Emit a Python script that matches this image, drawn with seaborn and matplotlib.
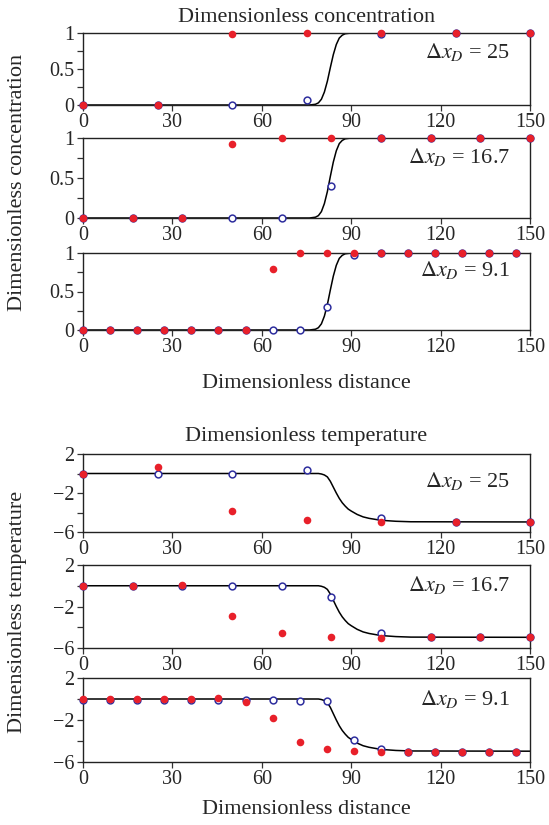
import numpy as np
import pandas as pd
import seaborn as sns
import matplotlib
matplotlib.use('Agg')
import matplotlib.pyplot as plt

# grid points of the three runs
x_25 = [0, 25, 50, 75, 100, 125, 150]
x_167 = [0, 16.7, 33.3, 50, 66.7, 83.3, 100, 116.7, 133.3, 150]
x_91 = [0, 9.09, 18.18, 27.27, 36.36, 45.45, 54.55, 63.64, 72.73, 81.82,
        90.91, 100, 109.09, 118.18, 127.27, 136.36, 145.45]

# analytical curves
conc_curve_x = [0, 76, 78, 79, 80, 81, 82, 83, 84, 85, 86, 87, 88, 90, 150]
conc_curve_y = [0, 0, 0.01, 0.03, 0.08, 0.18, 0.33, 0.52, 0.70, 0.84, 0.93, 0.97, 0.99, 1, 1]
temp_curve_x = [0, 79, 80, 81, 82, 83, 84, 85, 86, 87, 88, 89, 90, 92, 94, 96, 100, 105, 110, 150]
temp_curve_y = [0, 0, -0.05, -0.15, -0.35, -0.8, -1.4, -2.0, -2.55, -3.0, -3.35, -3.65,
                -3.85, -4.2, -4.45, -4.6, -4.8, -4.9, -4.95, -4.97]

# concentration: red = filled, blue = open
conc_red_25 = [0, 0, 0.98, 1, 1, 1, 1]
conc_blue_25 = [0, 0, 0, 0.07, 0.99, 1, 1]
conc_red_167 = [0, 0, 0, 0.92, 1, 1, 1, 1, 1, 1]
conc_blue_167 = [0, 0, 0, 0, 0, 0.40, 1, 1, 1, 1]
conc_red_91 = [0, 0, 0, 0, 0, 0, 0, 0.79, 1, 1, 1, 1, 1, 1, 1, 1, 1]
conc_blue_91 = [0, 0, 0, 0, 0, 0, 0, 0, 0, 0.30, 0.98, 1, 1, 1, 1, 1, 1]

# temperature
temp_red_25 = [0, 0.68, -3.86, -4.81, -4.98, -4.95, -4.95]
temp_blue_25 = [0, 0, -0.03, 0.34, -4.6, -4.93, -4.93]
temp_red_167 = [0, 0, 0.1, -2.94, -4.55, -4.9, -5.02, -4.97, -4.95, -4.95]
temp_blue_167 = [-0.05, -0.05, -0.05, -0.05, -0.05, -1.1, -4.55, -4.96, -4.96, -4.96]
temp_red_91 = [0, 0, 0, 0, 0, 0.05, -0.26, -1.84, -4.1, -4.77, -4.94, -5.03,
               -5.0, -5.0, -5.0, -5.0, -5.0]
temp_blue_91 = [-0.05, -0.05, -0.05, -0.05, -0.05, -0.05, -0.05, -0.05, -0.19, -0.23,
                -3.9, -4.8, -5.0, -5.0, -5.0, -5.0, -5.0]

dx_labels = ['25', '16.7', '9.1']

sns.set_style('ticks')
plt.rcParams['font.family'] = ['Liberation Serif', 'DejaVu Serif']
plt.rcParams['mathtext.fontset'] = 'stix'
plt.rcParams['font.size'] = 14

RED = '#e8202a'
BLUE = '#2e2e9e'

W, H = 549, 825
fig = plt.figure(figsize=(W / 100, H / 100), dpi=100)

LEFT, RIGHT = 83, 530


def px_axes(y0, y1):
    return fig.add_axes([LEFT / W, 1 - y1 / H, (RIGHT - LEFT) / W, (y1 - y0) / H])


def draw_panel(ax, cx, cy, xs, red, blue, label, kind, ypos):
    sns.lineplot(x=cx, y=cy, ax=ax, color='black', lw=1.1, sort=False, zorder=2)
    sns.scatterplot(x=xs, y=blue, ax=ax, marker='o', s=24, facecolor='white',
                    edgecolor=BLUE, linewidth=1.1, zorder=3, clip_on=False)
    sns.scatterplot(x=xs, y=red, ax=ax, marker='o', s=30, color=RED,
                    edgecolor=RED, linewidth=0, zorder=4, clip_on=False)
    ax.set_xlim(0, 150)
    ax.set_xticks([0, 30, 60, 90, 120, 150])
    if kind == 'conc':
        ax.set_ylim(0, 1)
        ax.set_yticks([0, 0.25, 0.5, 0.75, 1])
        ax.set_yticklabels(['0', '', '0.5', '', '1'])
    else:
        ax.set_ylim(-6, 2)
        ax.set_yticks([-6, -4, -2, 0, 2])
        ax.set_yticklabels(['\u22126', '', '\u22122', '', '2'])
    ax.tick_params(direction='out', length=4, width=0.9, color='#333333',
                   labelsize=14.5, pad=2)
    for s in ax.spines.values():
        s.set_visible(True)
        s.set_linewidth(1.0)
        s.set_color('#222222')
    ax.set_xlabel('')
    ax.set_ylabel('')
    ax.text(0.955, ypos, r'$\Delta x_D$ = ' + label, transform=ax.transAxes,
            ha='right', va='center', fontsize=16)


conc_sets = [(x_25, conc_red_25, conc_blue_25), (x_167, conc_red_167, conc_blue_167),
             (x_91, conc_red_91, conc_blue_91)]
temp_sets = [(x_25, temp_red_25, temp_blue_25), (x_167, temp_red_167, temp_blue_167),
             (x_91, temp_red_91, temp_blue_91)]

conc_boxes = [(33, 105), (138, 218), (253, 330)]
temp_boxes = [(454, 532), (565, 648), (678, 762)]
conc_ypos = [0.73, 0.76, 0.78]
temp_ypos = [0.65, 0.76, 0.75]

for (y0, y1), (xs, red, blue), lab, yp in zip(conc_boxes, conc_sets, dx_labels, conc_ypos):
    ax = px_axes(y0, y1)
    draw_panel(ax, conc_curve_x, conc_curve_y, xs, red, blue, lab, 'conc', yp)

for (y0, y1), (xs, red, blue), lab, yp in zip(temp_boxes, temp_sets, dx_labels, temp_ypos):
    ax = px_axes(y0, y1)
    draw_panel(ax, temp_curve_x, temp_curve_y, xs, red, blue, lab, 'temp', yp)

cx = (LEFT + RIGHT) / 2 / W
fig.text(cx, 1 - 18 / H, 'Dimensionless concentration', ha='center', va='center', fontsize=16)
fig.text(cx, 1 - 437 / H, 'Dimensionless temperature', ha='center', va='center', fontsize=16)
fig.text(cx, 1 - 383 / H, 'Dimensionless distance', ha='center', va='center', fontsize=16)
fig.text(cx, 1 - 809 / H, 'Dimensionless distance', ha='center', va='center', fontsize=16)
fig.text(18 / W, 1 - 182 / H, 'Dimensionless concentration', ha='center', va='center',
         rotation=90, fontsize=16)
fig.text(18 / W, 1 - 612 / H, 'Dimensionless temperature', ha='center', va='center',
         rotation=90, fontsize=16)

plt.savefig('out.png', dpi=100)
